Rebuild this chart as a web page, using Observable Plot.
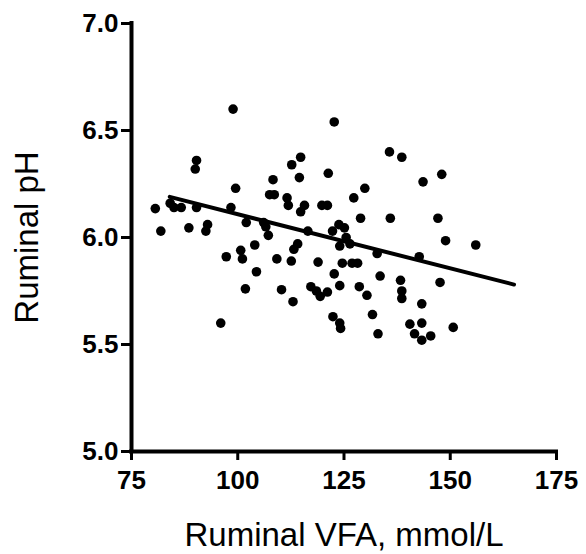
<!DOCTYPE html>
<html>
<head>
<meta charset="utf-8">
<script src="https://cdn.jsdelivr.net/npm/d3@7"></script>
<script src="https://cdn.jsdelivr.net/npm/@observablehq/plot@0.6"></script>
<style>
  html, body { margin: 0; padding: 0; background: #fff; }
  #chart svg { display: block; font-family: "Liberation Sans", Arial, Helvetica, sans-serif; }
</style>
</head>
<body>
<div id="chart"></div>
<script>
// Ruminal VFA (mmol/L) and ruminal pH
const vfa = [80.6, 81.9, 84.1, 85.0, 86.7, 88.5, 90.3, 90.0, 90.3, 92.9, 92.5, 96.0, 97.3, 98.9, 98.4, 99.5,
  100.7, 101.1, 101.8, 102.0, 104.0, 104.4, 106.1, 106.6, 107.2, 107.5, 108.6, 108.3, 109.2, 110.3, 111.6, 111.9,
  112.7, 112.6, 113.0, 113.2, 114.1, 114.5, 114.8, 114.8, 115.7, 116.5, 117.2, 118.5, 118.9, 119.4, 119.8, 121.1,
  121.1, 121.3, 122.7, 122.3, 122.7, 122.4, 123.8, 124.0, 124.0, 124.2, 124.0, 125.1, 125.5, 126.4, 124.6, 126.9,
  128.2, 127.3, 128.6, 128.9, 129.9, 130.4, 131.7, 132.8, 133.5, 133.0, 135.7, 135.9, 138.6, 138.3, 138.6, 138.6,
  140.5, 141.6, 142.7, 143.3, 143.3, 143.3, 145.4, 143.6, 147.1, 147.6, 148.0, 148.9, 150.7, 156.0];
const ph = [6.135, 6.03, 6.16, 6.14, 6.14, 6.045, 6.36, 6.32, 6.14, 6.06, 6.03, 5.60, 5.91, 6.60, 6.14, 6.23,
  5.94, 5.90, 5.76, 6.07, 5.965, 5.84, 6.07, 6.05, 6.01, 6.20, 6.20, 6.27, 5.90, 5.756, 6.185, 6.15,
  6.34, 5.89, 5.70, 5.945, 5.97, 6.28, 6.375, 6.12, 6.15, 6.03, 5.77, 5.75, 5.885, 5.725, 6.15, 6.15,
  5.745, 6.30, 6.54, 6.03, 5.83, 5.63, 6.06, 5.775, 5.60, 5.575, 5.96, 6.045, 6.00, 5.97, 5.88, 5.88,
  5.88, 6.185, 5.77, 6.09, 6.23, 5.73, 5.64, 5.925, 5.82, 5.55, 6.40, 6.09, 6.375, 5.80, 5.75, 5.715,
  5.595, 5.55, 5.91, 5.69, 5.60, 5.52, 5.54, 6.26, 6.09, 5.79, 6.295, 5.985, 5.58, 5.965];

// Regression line end points
const fitX = [84, 165];
const fitY = [6.19, 5.78];

const xTicks = [75, 100, 125, 150, 175];
const yTicks = [5.0, 5.5, 6.0, 6.5, 7.0];
const xTitle = "Ruminal VFA, mmol/L";
const yTitle = "Ruminal pH";

const points = vfa.map((v, i) => ({x: v, y: ph[i]}));
const fit = fitX.map((v, i) => ({x: v, y: fitY[i]}));

const chart = Plot.plot({
  width: 586,
  height: 554,
  marginLeft: 131,
  marginRight: 30,
  marginTop: 23,
  marginBottom: 103,
  style: {fontFamily: '"Liberation Sans", Arial, Helvetica, sans-serif', color: "#000", background: "#fff"},
  x: {domain: [75, 175]},
  y: {domain: [5, 7]},
  marks: [
    Plot.axisX({ticks: xTicks, tickSize: 9, tickPadding: 10, fontSize: 26, fontWeight: "bold", strokeWidth: 3, label: null, tickFormat: d3.format("d")}),
    Plot.axisY({ticks: yTicks, tickSize: 10, tickPadding: 3, fontSize: 26, fontWeight: "bold", strokeWidth: 3, label: null, tickFormat: d3.format(".1f")}),
    Plot.ruleX([75], {strokeWidth: 4, strokeLinecap: "square"}),
    Plot.ruleY([5], {strokeWidth: 4, strokeLinecap: "square"}),
    Plot.dot(points, {x: "x", y: "y", r: 4.8, fill: "#000", stroke: "none"}),
    Plot.line(fit, {x: "x", y: "y", stroke: "#000", strokeWidth: 4}),
    Plot.text([xTitle], {frameAnchor: "bottom", textAnchor: "middle", lineAnchor: "middle", dy: 84, fontSize: 33, fill: "#000"}),
    Plot.text([yTitle], {frameAnchor: "left", textAnchor: "middle", lineAnchor: "middle", rotate: -90, dx: -104, fontSize: 33, fill: "#000"})
  ]
});
document.getElementById("chart").appendChild(chart);
</script>
</body>
</html>
